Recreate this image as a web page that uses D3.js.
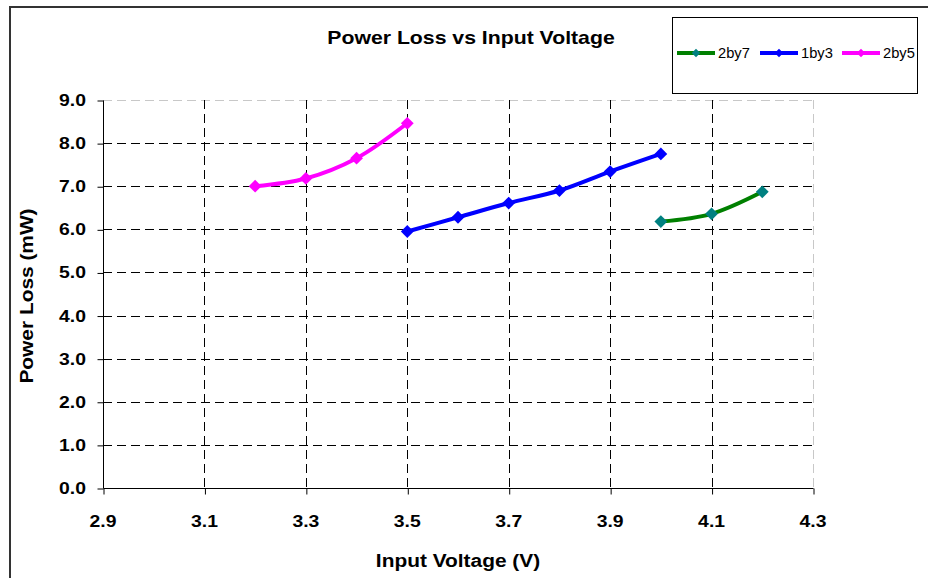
<!DOCTYPE html>
<html>
<head>
<meta charset="utf-8">
<script src="https://cdn.jsdelivr.net/npm/d3@7"></script>
<style>
  body { margin: 0; background: #fff; }
  svg { display: block; }
  text { font-family: "Liberation Sans", Arial, sans-serif; fill: #000; }
</style>
</head>
<body>
<svg id="chart" width="928" height="578"></svg>
<script>
// Power loss (mW) measured against input voltage (V) for three conversion ratios
const seriesNames = ["2by7", "1by3", "2by5"];
const voltage2by7 = [4.0, 4.1, 4.2];
const loss2by7 = [6.18, 6.36, 6.87];
const voltage1by3 = [3.5, 3.6, 3.7, 3.8, 3.9, 4.0];
const loss1by3 = [5.95, 6.28, 6.61, 6.90, 7.34, 7.75];
const voltage2by5 = [3.2, 3.3, 3.4, 3.5];
const loss2by5 = [7.00, 7.18, 7.65, 8.46];
const xTicks = [2.9, 3.1, 3.3, 3.5, 3.7, 3.9, 4.1, 4.3];
const yTicks = [0, 1, 2, 3, 4, 5, 6, 7, 8, 9];
const lineColors = ["#008000", "#0000ff", "#ff00ff"];
const markerColors = ["#008080", "#0000ff", "#ff00ff"];
const chartTitle = "Power Loss vs Input Voltage";
const xTitle = "Input Voltage (V)";
const yTitle = "Power Loss (mW)";

const series = [
  { name: seriesNames[0], x: voltage2by7, y: loss2by7 },
  { name: seriesNames[1], x: voltage1by3, y: loss1by3 },
  { name: seriesNames[2], x: voltage2by5, y: loss2by5 }
].map((s, i) => ({
  name: s.name,
  line: lineColors[i],
  marker: markerColors[i],
  points: s.x.map((v, j) => ({ v, p: s.y[j] }))
}));

const svg = d3.select("#chart");
const plot = { left: 103, right: 813, top: 100, bottom: 488 };

const x = d3.scaleLinear().domain([2.9, 4.3]).range([plot.left, plot.right]);
const y = d3.scaleLinear().domain([0, 9]).range([plot.bottom, plot.top]);

// Text in this chart is drawn slightly wide
const SX = 1.14;
function label(g, str, px, py, opts) {
  const o = Object.assign({ size: 17, weight: "bold", anchor: "middle", rotate: 0, sx: SX }, opts || {});
  return g.append("text")
    .attr("transform", `translate(${px},${py}) rotate(${o.rotate}) scale(${o.sx},1)`)
    .attr("text-anchor", o.anchor)
    .style("font-size", o.size + "px")
    .style("font-weight", o.weight)
    .text(str);
}

// Outer frame
svg.append("path")
  .attr("d", "M10,590 L10,7 L940,7")
  .attr("fill", "none")
  .attr("stroke", "#333")
  .attr("stroke-width", 2);

// Grid
const grid = svg.append("g");
yTicks.filter(t => t > 0).forEach(t => {
  const yy = Math.round(y(t)) + 0.5;
  grid.append("line")
    .attr("x1", plot.left).attr("x2", plot.right)
    .attr("y1", yy).attr("y2", yy)
    .attr("stroke", t === 9 ? "#c8c8c8" : "#000")
    .attr("stroke-width", 1)
    .attr("stroke-dasharray", "9,5");
});
xTicks.filter(t => t > 2.9).forEach(t => {
  const xx = Math.round(x(t)) + 0.5;
  grid.append("line")
    .attr("x1", xx).attr("x2", xx)
    .attr("y1", plot.top).attr("y2", plot.bottom)
    .attr("stroke", t === 4.3 ? "#c8c8c8" : "#000")
    .attr("stroke-width", 1)
    .attr("stroke-dasharray", "9,5");
});

// Axes
const xAxis = d3.axisBottom(x).tickValues(xTicks).tickSize(6).tickFormat(d3.format(".1f"));
const yAxis = d3.axisLeft(y).tickValues(yTicks).tickSize(6).tickFormat(d3.format(".1f"));

const gx = svg.append("g").attr("transform", `translate(0.5,${Math.round(y(0)) + 0.5})`).call(xAxis);
const gy = svg.append("g").attr("transform", `translate(${Math.round(x(2.9)) + 0.5},0.5)`).call(yAxis);

[gx, gy].forEach(g => {
  g.select(".domain").attr("stroke", "#000").attr("stroke-width", 1);
  g.selectAll(".tick line").attr("stroke", "#000");
  g.selectAll(".tick text").remove();
});
gx.select(".domain").attr("d", `M${plot.left},0H${plot.right}`);
gy.select(".domain").attr("d", `M0,${plot.top}V${plot.bottom}`);

// Tick labels
const labels = svg.append("g");
xTicks.forEach(t => label(labels, d3.format(".1f")(t), x(t), 527, { size: 17 }));
yTicks.forEach(t => label(labels, d3.format(".1f")(t), 86, y(t) + 6, { size: 17, anchor: "end" }));

// Titles
label(svg, chartTitle, 471, 44, { size: 18, sx: 1.18 });
label(svg, xTitle, 458, 567, { size: 18, sx: 1.16 });
label(svg, yTitle, 33, 296, { size: 18, rotate: -90, sx: 1.16 });

// Series lines and markers
const lineGen = d3.line()
  .x(d => x(d.v))
  .y(d => y(d.p))
  .curve(d3.curveCatmullRom.alpha(0.5));

const diamond = d3.symbol().type(d3.symbolSquare);

series.forEach(s => {
  svg.append("path")
    .datum(s.points)
    .attr("d", lineGen)
    .attr("fill", "none")
    .attr("stroke", s.line)
    .attr("stroke-width", 4)
    .attr("stroke-linejoin", "round");
  svg.append("g").selectAll("path")
    .data(s.points)
    .join("path")
    .attr("d", diamond.size(82)())
    .attr("transform", d => `translate(${x(d.v)},${y(d.p)}) rotate(45)`)
    .attr("fill", s.marker);
});

// Legend
const legend = svg.append("g");
legend.append("rect")
  .attr("x", 672.5).attr("y", 17.5)
  .attr("width", 245).attr("height", 76)
  .attr("fill", "#fff")
  .attr("stroke", "#000")
  .attr("stroke-width", 1);
const legendX = [677, 760, 842];
series.forEach((s, i) => {
  const lx = legendX[i];
  legend.append("line")
    .attr("x1", lx).attr("x2", lx + 38)
    .attr("y1", 53).attr("y2", 53)
    .attr("stroke", s.line)
    .attr("stroke-width", 4);
  legend.append("path")
    .attr("d", diamond.size(36)())
    .attr("transform", `translate(${lx + 19},53) rotate(45)`)
    .attr("fill", s.marker);
  label(legend, s.name, lx + 41, 58, { size: 14, weight: "normal", anchor: "start", sx: 1.05 });
});
</script>
</body>
</html>
